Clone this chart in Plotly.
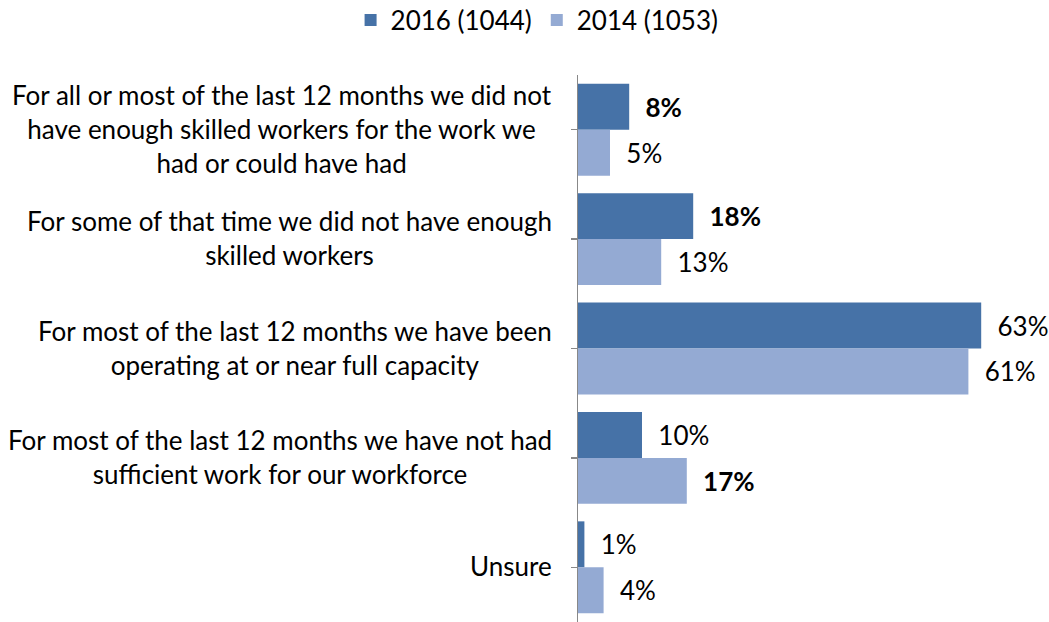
import plotly.graph_objects as go

categories = [
    "For all or most of the last 12 months we did not<br>have enough skilled workers for the work we<br>had or could have had",
    "For some of that time we did not have enough<br>skilled workers",
    "For most of the last 12 months we have been<br>operating at or near full capacity",
    "For most of the last 12 months we have not had<br>sufficient work for our workforce",
    "Unsure",
]
series_names = ["2016 (1044)", "2014 (1053)"]
values_2016 = [8, 18, 63, 10, 1]
values_2014 = [5, 13, 61, 17, 4]
bold_2016 = [True, True, False, False, False]
bold_2014 = [False, False, False, True, False]

colors = ["#4672A7", "#94AAD3"]
FONT = "Lato, Carlito, Calibri, sans-serif"
FS = 26
PAD = "\u00a0\u00a0"


def labels(vals, bold):
    out = []
    for v, b in zip(vals, bold):
        t = f"{v}%"
        out.append(PAD + (f"<b>{t}</b>" if b else t))
    return out


ycats = list(range(len(categories)))

fig = go.Figure()
for name, vals, bold, col in [
    (series_names[0], values_2016, bold_2016, colors[0]),
    (series_names[1], values_2014, bold_2014, colors[1]),
]:
    fig.add_trace(go.Bar(
        name=name, orientation="h", x=vals, y=ycats,
        marker=dict(color=col, line=dict(width=0)),
        text=labels(vals, bold), textposition="outside",
        textfont=dict(family=FONT, size=FS, color="black"),
        cliponaxis=False, constraintext="none",
        hoverinfo="skip",
    ))

for i, c in enumerate(categories):
    fig.add_annotation(
        x=0, xref="paper", y=i, yref="y", text=c, showarrow=False,
        xanchor="right", yanchor="middle", align="center", xshift=-24, yshift=1,
        font=dict(family=FONT, size=FS, color="black"),
    )

fig.update_layout(
    width=1049, height=622,
    margin=dict(l=578, r=23, t=75, b=0, autoexpand=False),
    paper_bgcolor="white", plot_bgcolor="white",
    barmode="group", bargap=0.16, bargroupgap=0,
    font=dict(family=FONT, size=FS, color="black"),
    showlegend=True,
    legend=dict(
        orientation="h", xref="container", yref="container",
        x=0.512, xanchor="center", y=0.9678, yanchor="middle",
        font=dict(family=FONT, size=FS, color="black"),
        traceorder="normal",
    ),
    xaxis=dict(visible=False, range=[0, 70], fixedrange=True),
    yaxis=dict(
        range=[len(categories) - 0.5, -0.5],
        tickmode="array", tickvals=ycats, ticktext=[""] * len(ycats),
        showticklabels=False, tickson="boundaries",
        ticks="outside", ticklen=6, tickcolor="#888888", tickwidth=1.5,
        showline=True, linecolor="#888888", linewidth=1.5,
        showgrid=False, zeroline=False, fixedrange=True,
    ),
)

fig.write_html(
    "out.html",
    config={"displayModeBar": False, "staticPlot": True},
    post_script="document.body.style.margin='0';document.body.style.overflow='hidden';",
)
